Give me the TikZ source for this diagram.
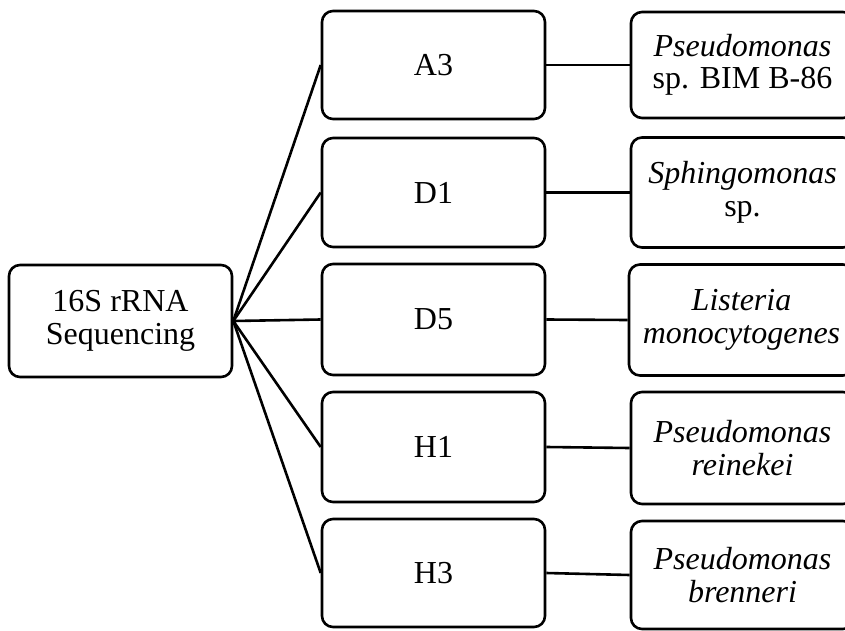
\documentclass[tikz,border=0pt]{standalone}
\usepackage{fontspec}
\setmainfont{Liberation Serif}
\begin{document}
\begin{tikzpicture}[x=1pt,y=-1pt,
  box/.style={draw, line width=2.6pt, rounded corners=11pt, align=center,
    inner sep=0pt, minimum width=223pt,
    font=\fontsize{32}{32.5}\selectfont},
  link/.style={line width=2.6pt}]
\clip (0,0) rectangle (845,631);
\fill[white] (0,0) rectangle (845,631);

% root
\node[box, minimum height=112pt] (root) at (120.5,321) {16S rRNA\\Sequencing};

% isolates
\node[box, minimum height=108pt] (a3) at (433.5,65) {A3};
\node[box, minimum height=109pt] (d1) at (433.5,192.5) {D1};
\node[box, minimum height=111pt] (d5) at (433.5,319.5) {D5};
\node[box, minimum height=110pt] (h1) at (433.5,447) {H1};
\node[box, minimum height=108pt] (h3) at (433.5,573) {H3};

% identified species
\node[box, minimum height=106pt] (sa3) at (742.5,65) {\textit{Pseudomonas}\\sp. BIM B-86};
\node[box, minimum height=110pt] (sd1) at (742.5,192.5) {\textit{Sphingomonas}\\sp.};
\node[box, minimum height=111pt, minimum width=225pt] (sd5) at (741.5,320) {\textit{Listeria}\\\textit{monocytogenes}};
\node[box, minimum height=112pt] (sh1) at (742.5,448) {\textit{Pseudomonas}\\\textit{reinekei}};
\node[box, minimum height=108pt] (sh3) at (742.5,575) {\textit{Pseudomonas}\\\textit{brenneri}};

% connectors
\foreach \n in {a3,d1,d5,h1,h3}
  \draw[link] (root.east) -- (\n.west);
\draw[link] (a3.east) -- (sa3.west);
\draw[link] (d1.east) -- (sd1.west);
\draw[link] (d5.east) -- (sd5.west);
\draw[link] (h1.east) -- (sh1.west);
\draw[link] (h3.east) -- (sh3.west);
\end{tikzpicture}
\end{document}
